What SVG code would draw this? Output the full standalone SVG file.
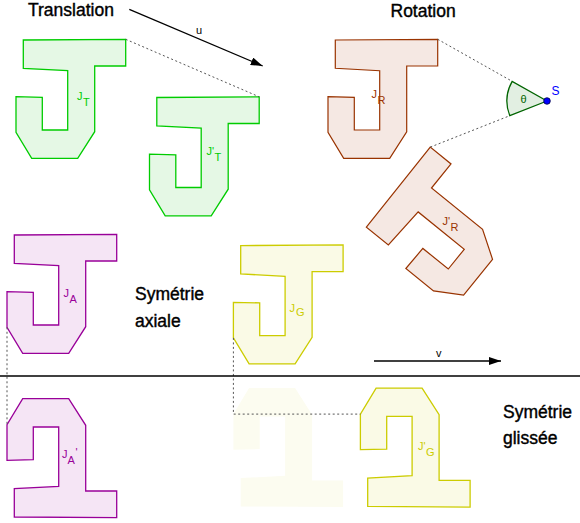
<svg xmlns="http://www.w3.org/2000/svg" width="580" height="523" viewBox="0 0 580 523">
<style>
.title{font-family:"Liberation Sans",Arial,sans-serif;font-size:17.5px;fill:#000;stroke:#000;stroke-width:0.4}
.lbl{font-family:"Liberation Sans",Arial,sans-serif;font-size:11px}
.t{fill:#e5f8e5;stroke:#00cc00;stroke-width:1.3}
.r{fill:#f5e8e3;stroke:#993300;stroke-width:1.2}
.a{fill:#f5e5f5;stroke:#990099;stroke-width:1.3}
.g{fill:#fafae6;stroke:#cccc00;stroke-width:1.3}
.ghost{fill:#fcfcf0;stroke:none}
.dot{fill:none;stroke:#555;stroke-width:1;stroke-dasharray:2,2.5}
.vec{stroke:#000;stroke-width:1.3;fill:none}
</style>
<defs>
<path id="J" d="M23.3,40 L125.7,39.3 L125.7,66 L94.7,66 L94.7,131.7 L77.7,158.3 L31.7,158.3 L16,132.3 L16,96.7 L42.3,97.3 L42.3,130 L67.7,130 L67.7,70.7 L23.3,68.3 Z"/>
<marker id="ah" viewBox="0 0 12 8" refX="12" refY="4" markerWidth="12" markerHeight="8" markerUnits="userSpaceOnUse" orient="auto">
<path d="M0,0 L12,4 L0,8 Z" fill="#000"/>
</marker>
</defs>
<g id="titles">
<text class="title" x="28" y="16">Translation</text>
<text class="title" x="390.5" y="16.5">Rotation</text>
<text class="title" x="135" y="300">Symétrie</text>
<text class="title" x="135" y="326.5">axiale</text>
<text class="title" x="503" y="418.3">Symétrie</text>
<text class="title" x="503" y="443.5">glissée</text>
<text class="lbl" x="196" y="34" fill="#000">u</text>
<text class="lbl" x="436" y="357" fill="#000">v</text>
</g>
<g id="JT">
<use href="#J" class="t"/>
<text class="lbl" x="77" y="100" fill="#00cc00">J<tspan x="83" y="106">T</tspan></text>
</g>
<g id="JT2">
<use href="#J" class="t" transform="translate(133.5,57.5)"/>
<text class="lbl" x="206.5" y="155" fill="#00cc00">J'<tspan x="214.5" y="161">T</tspan></text>
</g>
<g id="JR">
<use href="#J" class="r" transform="translate(312,0)"/>
<text class="lbl" x="371.5" y="98" fill="#993300">J<tspan x="377.5" y="104">R</tspan></text>
</g>
<g id="JR2">
<use href="#J" class="r" transform="rotate(-51,547,101) translate(312,0)"/>
<text class="lbl" x="442.5" y="224.5" fill="#993300">J'<tspan x="450.5" y="230.5">R</tspan></text>
</g>
<g id="JA">
<use href="#J" class="a" transform="translate(-9,195)"/>
<text class="lbl" x="63.5" y="297" fill="#990099">J<tspan x="69.5" y="303">A</tspan></text>
</g>
<g id="JA2">
<use href="#J" class="a" transform="matrix(1,0,0,-1,-9,557)"/>
<text class="lbl" x="62" y="458" fill="#990099">J<tspan x="67.5" y="464">A</tspan><tspan x="75.5" y="456">'</tspan></text>
</g>
<g id="JG">
<use href="#J" class="g" transform="translate(217.4,205.6)"/>
<text class="lbl" x="289.5" y="311.5" fill="#cccc00">J<tspan x="296" y="316">G</tspan></text>
</g>
<g id="JGghost">
<use href="#J" class="ghost" transform="matrix(1,0,0,-1,217.4,546.4)"/>
</g>
<g id="JG2">
<use href="#J" class="g" transform="matrix(1,0,0,-1,344.4,546.4)"/>
<text class="lbl" x="418" y="450" fill="#cccc00">J'<tspan x="426" y="456">G</tspan></text>
</g>
<g id="connectors">
<path class="dot" d="M125.7,39.3 L259.2,96.8"/>
<path class="dot" d="M437.7,39.3 L512.16,81.34"/>
<path class="dot" d="M430.3,147.1 L509.8,115.7"/>
<path class="dot" d="M7,327.3 L7,424.7"/>
<path class="dot" d="M233.4,337.9 L233.4,414.1 L360.4,414.1"/>
<line class="vec" x1="129.3" y1="9.3" x2="262.7" y2="66" marker-end="url(#ah)"/>
<line class="vec" x1="374" y1="361" x2="501" y2="361" marker-end="url(#ah)"/>
<line x1="0" y1="376" x2="580" y2="376" stroke="#000" stroke-width="1.4"/>
</g>
<g id="angle">
<path d="M547,101 L512.16,81.34 A40,40 0 0,0 509.8,115.7 Z" fill="#e2efe2" stroke="#006400" stroke-width="1.3"/>
<text class="lbl" x="520.5" y="102.5" fill="#006400">θ</text>
</g>
<g id="S">
<circle cx="547" cy="101" r="3.3" fill="#0000ff" stroke="#000044" stroke-width="0.8"/>
<text class="lbl" x="551.5" y="94.5" fill="#0000ff" style="font-size:12px">S</text>
</g>
</svg>
